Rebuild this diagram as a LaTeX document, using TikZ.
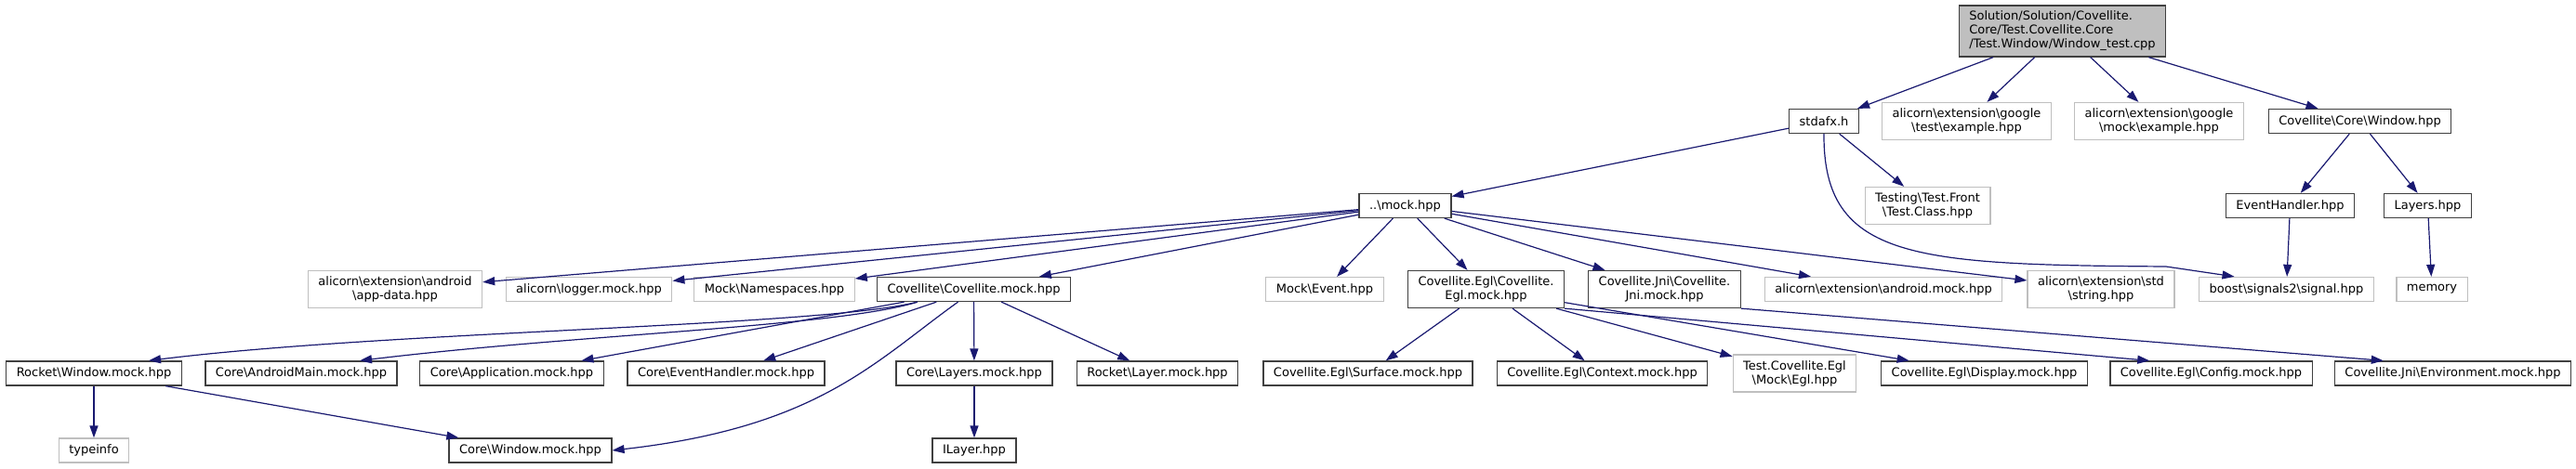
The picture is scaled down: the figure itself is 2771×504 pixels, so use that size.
\documentclass[tikz,border=0pt]{standalone}
\usepackage{fontspec}
\setmainfont{DejaVu Sans}
\usepackage{tikz}
\usetikzlibrary{arrows.meta}

\definecolor{edgeblue}{HTML}{191970}
\definecolor{boxline}{HTML}{404040}
\definecolor{extline}{HTML}{BFBFBF}
\definecolor{rootfill}{HTML}{BFBFBF}
\newcommand{\bksl}{\textbackslash}

\tikzset{
  hdr/.style={draw=boxline, line width=1.3pt, fill=white, inner xsep=11pt, inner ysep=2pt, minimum height=26pt},
  ext/.style={hdr, draw=extline},
  two/.style={align=center, minimum height=40pt},
  rootfile/.style={hdr, fill=rootfill, align=left, minimum height=55pt},
  inc/.style={draw=edgeblue, line width=1.2pt, -{Triangle[length=13pt, width=9pt]}}
}

\begin{document}
\begin{tikzpicture}[x=1pt, y=-1pt, font=\fontsize{13}{15}\selectfont]
            \useasboundingbox (0,0) rectangle (2771,504);

            % Root file
            \node[rootfile] (win) at (2218.5,33.5) {Solution/Solution/Covellite.\\Core/Test.Covellite.Core\\/Test.Window/Window\_test.cpp};

            % First level
            \node[hdr] (stdafx) at (1962,130.5) {stdafx.h};
            \node[ext, two] (gtest) at (2115.5,130.5) {alicorn\bksl extension\bksl google\\\bksl test\bksl example.hpp};
            \node[ext, two] (gmock) at (2322.5,130.5) {alicorn\bksl extension\bksl google\\\bksl mock\bksl example.hpp};
            \node[hdr] (corewin) at (2538.5,130.5) {Covellite\bksl Core\bksl Window.hpp};

            % Second level
            \node[hdr] (mock) at (1511.5,221.5) {..\bksl mock.hpp};
            \node[ext, two] (testcls) at (2073.5,221.5) {Testing\bksl Test.Front\\\bksl Test.Class.hpp};
            \node[hdr] (evh) at (2463.5,221.5) {EventHandler.hpp};
            \node[hdr] (layers) at (2611.5,221.5) {Layers.hpp};

            % Third level
            \node[ext, two] (appdata) at (425,311.5) {alicorn\bksl extension\bksl android\\\bksl app-data.hpp};
            \node[ext] (logger) at (633.5,311.5) {alicorn\bksl logger.mock.hpp};
            \node[ext] (nspaces) at (833,311.5) {Mock\bksl Namespaces.hpp};
            \node[hdr] (covmock) at (1047.5,311.5) {Covellite\bksl Covellite.mock.hpp};
            \node[ext] (event) at (1425,311.5) {Mock\bksl Event.hpp};
            \node[hdr, two] (eglmock) at (1598.5,311.5) {Covellite.Egl\bksl Covellite.\\Egl.mock.hpp};
            \node[hdr, two] (jnimock) at (1790.5,311.5) {Covellite.Jni\bksl Covellite.\\Jni.mock.hpp};
            \node[ext] (andmock) at (2026,311.5) {alicorn\bksl extension\bksl android.mock.hpp};
            \node[ext, two] (string) at (2260,311.5) {alicorn\bksl extension\bksl std\\\bksl string.hpp};
            \node[ext] (boost) at (2459.5,311.5) {boost\bksl signals2\bksl signal.hpp};
            \node[ext] (memory) at (2616,311.5) {memory};

            % Fourth level
            \node[hdr] (rocketwin) at (101,402) {Rocket\bksl Window.mock.hpp};
            \node[hdr] (amain) at (324,402) {Core\bksl AndroidMain.mock.hpp};
            \node[hdr] (app) at (550.5,402) {Core\bksl Application.mock.hpp};
            \node[hdr] (evhmock) at (781,402) {Core\bksl EventHandler.mock.hpp};
            \node[hdr] (laymock) at (1048,402) {Core\bksl Layers.mock.hpp};
            \node[hdr] (rlayer) at (1245,402) {Rocket\bksl Layer.mock.hpp};
            \node[hdr] (surface) at (1471.5,402) {Covellite.Egl\bksl Surface.mock.hpp};
            \node[hdr] (context) at (1723.5,402) {Covellite.Egl\bksl Context.mock.hpp};
            \node[ext, two] (eglhpp) at (1930.5,402) {Test.Covellite.Egl\\\bksl Mock\bksl Egl.hpp};
            \node[hdr] (display) at (2134.5,402) {Covellite.Egl\bksl Display.mock.hpp};
            \node[hdr] (config) at (2378.5,402) {Covellite.Egl\bksl Config.mock.hpp};
            \node[hdr] (envmock) at (2638.5,402) {Covellite.Jni\bksl Environment.mock.hpp};

            % Fifth level
            \node[ext] (typeinfo) at (101,485) {typeinfo};
            \node[hdr] (winmock) at (570.5,485) {Core\bksl Window.mock.hpp};
            \node[hdr] (ilayer) at (1048,485) {ILayer.hpp};

            % Straight includes
            \foreach \a/\b in {win/stdafx, win/gtest, win/gmock, win/corewin,
                stdafx/mock, stdafx/testcls, corewin/evh, corewin/layers,
                evh/boost, layers/memory,
                mock/appdata, mock/logger, mock/nspaces, mock/covmock, mock/event,
                mock/eglmock, mock/jnimock, mock/andmock, mock/string,
                covmock/app, covmock/evhmock, covmock/laymock, covmock/rlayer,
                eglmock/surface, eglmock/context, eglmock/eglhpp, eglmock/display,
                rocketwin/typeinfo, rocketwin/winmock, laymock/ilayer}
              \draw[inc] (\a) -- (\b);

            % Bent includes
            \draw[inc] (stdafx.south) .. controls (1961,280) and (2060,285) .. (2330,287) -- ([xshift=-56pt]boost.north);
            \draw[inc] ([xshift=44pt]covmock.south west) .. controls (880,352) and (420,356) .. ([xshift=59pt]rocketwin.north);
            \draw[inc] ([xshift=44pt]covmock.south west) .. controls (900,352) and (620,360) .. ([xshift=63pt]amain.north);
            \draw[inc] ([xshift=-17pt]covmock.south) .. controls (940,390) and (880,460) .. (winmock.east);
            \draw[inc] (eglmock.south east) -- ([xshift=43pt]config.north west);
            \draw[inc] (jnimock.south east) -- ([xshift=53pt]envmock.north west);
        \end{tikzpicture}
\end{document}
